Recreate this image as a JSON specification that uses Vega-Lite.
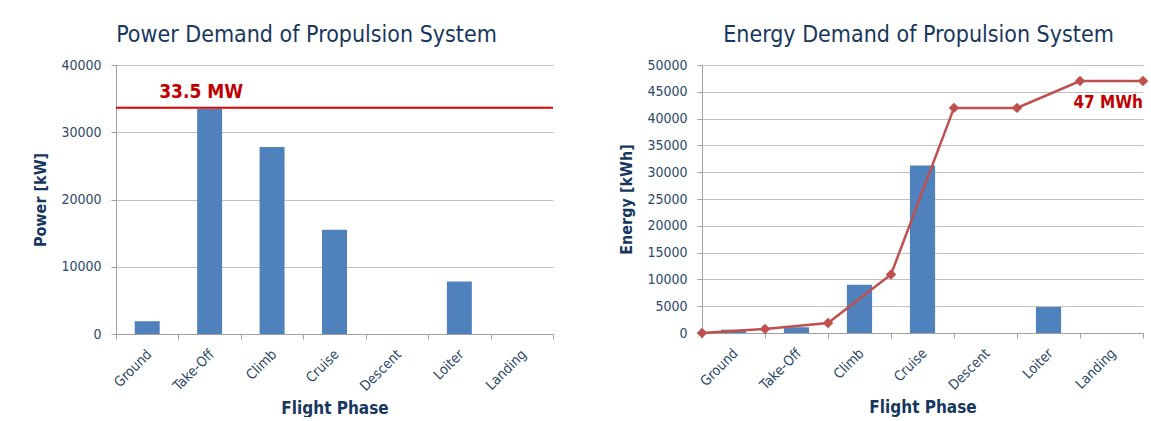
{
  "$schema": "https://vega.github.io/schema/vega-lite/v6.json",
  "padding": {"left": 32, "top": 24, "right": 0, "bottom": 0},
  "spacing": 64,
  "datasets": {
    "power": [
      {"phase": "Ground", "power": 1900},
      {"phase": "Take-Off", "power": 33500},
      {"phase": "Climb", "power": 27800},
      {"phase": "Cruise", "power": 15500},
      {"phase": "Descent", "power": 0},
      {"phase": "Loiter", "power": 7800},
      {"phase": "Landing", "power": 0}
    ],
    "energy": [
      {"phase": "Ground", "energy": 620},
      {"phase": "Take-Off", "energy": 1080},
      {"phase": "Climb", "energy": 9000},
      {"phase": "Cruise", "energy": 31250},
      {"phase": "Descent", "energy": 0},
      {"phase": "Loiter", "energy": 4850},
      {"phase": "Landing", "energy": 0}
    ],
    "cumulative": [
      {"boundary": 0, "energy": 0},
      {"boundary": 1, "energy": 750},
      {"boundary": 2, "energy": 1850},
      {"boundary": 3, "energy": 10900},
      {"boundary": 4, "energy": 42000},
      {"boundary": 5, "energy": 42000},
      {"boundary": 6, "energy": 47000},
      {"boundary": 7, "energy": 47000}
    ]
  },
  "hconcat": [
    {
      "width": 437,
      "height": 269,
      "title": {"text": "Power Demand of Propulsion System", "frame": "group", "dx": -28, "offset": 11},
      "layer": [
        {
          "data": {"name": "power"},
          "mark": {"type": "bar", "width": {"band": 0.4}, "color": "#4F81BD"},
          "encoding": {
            "x": {"field": "phase", "type": "nominal", "sort": null,
                  "scale": {"paddingInner": 0, "paddingOuter": 0},
                  "axis": {"title": "Flight Phase"}},
            "y": {"field": "power", "type": "quantitative",
                  "scale": {"domain": [0, 40000], "nice": false},
                  "axis": {"title": "Power [kW]", "tickCount": 4, "grid": true, "format": "d", "labelOverlap": false}}
          }
        },
        {
          "data": {"values": [{}]},
          "mark": {"type": "rule", "color": "#E00000", "strokeWidth": 2},
          "encoding": {"y": {"datum": 33650}}
        },
        {
          "data": {"values": [{}]},
          "mark": {"type": "text", "text": "33.5 MW", "color": "#C00000", "fontWeight": "bold", "fontSize": 19, "align": "left", "baseline": "alphabetic", "dx": 12, "dy": -10},
          "encoding": {"x": {"datum": "Ground", "type": "nominal"}, "y": {"datum": 33650}}
        }
      ]
    },
    {
      "width": 441,
      "height": 268,
      "title": {"text": "Energy Demand of Propulsion System", "frame": "group", "dx": -4, "offset": 11},
      "resolve": {"scale": {"x": "independent"}, "axis": {"x": "independent"}},
      "layer": [
        {
          "data": {"name": "energy"},
          "mark": {"type": "bar", "width": {"band": 0.4}, "color": "#4F81BD"},
          "encoding": {
            "x": {"field": "phase", "type": "nominal", "sort": null,
                  "scale": {"paddingInner": 0, "paddingOuter": 0},
                  "axis": {"title": "Flight Phase"}},
            "y": {"field": "energy", "type": "quantitative",
                  "scale": {"domain": [0, 50000], "nice": false},
                  "axis": {"title": "Energy [kWh]", "tickCount": 10, "grid": true, "format": "d", "labelOverlap": false}}
          }
        },
        {
          "layer": [
            {
              "data": {"name": "cumulative"},
              "mark": {"type": "line", "color": "#C0504D", "strokeWidth": 2.5,
                       "point": {"shape": "diamond", "size": 110, "filled": true, "color": "#C0504D"}},
              "encoding": {
                "x": {"field": "boundary", "type": "quantitative", "scale": {"domain": [0, 7], "nice": false, "zero": false}, "axis": null},
                "y": {"field": "energy", "type": "quantitative",
                      "axis": {"title": "Energy [kWh]", "tickCount": 10, "grid": true, "format": "d", "labelOverlap": false}}
              }
            },
            {
              "data": {"values": [{}]},
              "mark": {"type": "text", "text": "47 MWh", "color": "#C00000", "fontWeight": "bold", "fontSize": 17, "align": "right", "baseline": "alphabetic", "dy": 27},
              "encoding": {"x": {"datum": 7, "type": "quantitative"}, "y": {"datum": 47000}}
            }
          ]
        }
      ]
    }
  ],
  "resolve": {"scale": {"x": "independent", "y": "independent"}},
  "config": {
    "font": "DejaVu Sans Condensed, sans-serif",
    "view": {"stroke": null},
    "title": {"fontSize": 23, "fontWeight": "normal", "color": "#17375E", "anchor": "middle"},
    "axis": {
      "domainColor": "#A0A0A0",
      "tickColor": "#A0A0A0",
      "tickSize": 5,
      "gridColor": "#C0C0C0",
      "labelColor": "#2E4A6B",
      "labelFontSize": 14,
      "titleColor": "#17375E",
      "titleFontSize": 16,
      "titleFontWeight": "bold"
    },
    "axisY": {"labelPadding": 10, "titlePadding": 12},
    "axisX": {"grid": false, "tickBand": "extent", "labelAngle": -45, "labelAlign": "right", "labelBaseline": "top", "labelPadding": 8, "labelOffset": -3, "titlePadding": 7, "titleFontSize": 17}
  }
}
